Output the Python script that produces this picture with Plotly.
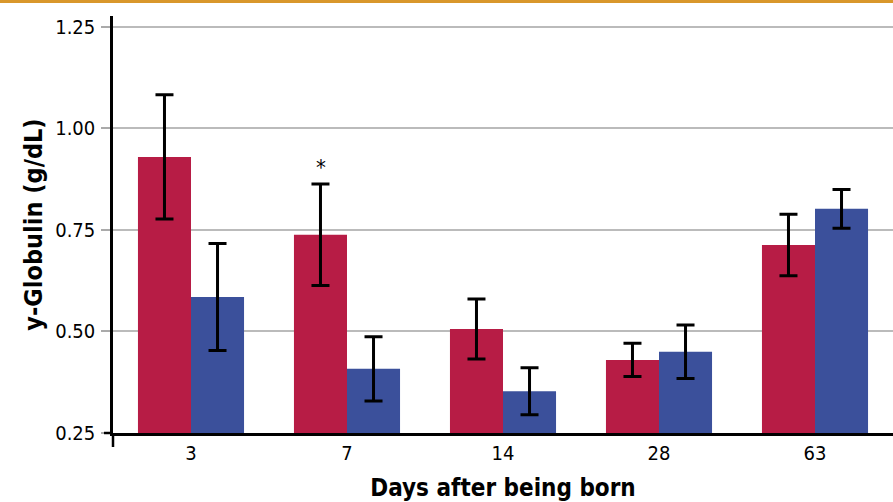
import plotly.graph_objects as go

days = ["3", "7", "14", "28", "63"]
group_a = [0.930, 0.738, 0.506, 0.430, 0.713]
group_a_err = [0.153, 0.125, 0.074, 0.041, 0.076]
group_b = [0.585, 0.408, 0.353, 0.450, 0.802]
group_b_err = [0.132, 0.079, 0.058, 0.066, 0.048]
y_ticks = [0.25, 0.50, 0.75, 1.00, 1.25]
y_tick_labels = ["0.25", "0.50", "0.75", "1.00", "1.25"]

RED = "#B71C45"
BLUE = "#3B509B"
FONT = "DejaVu Sans Condensed, Liberation Sans Narrow, Roboto, Arial, sans-serif"

fig = go.Figure()
fig.add_trace(go.Bar(
    x=days, y=[v - 0.25 for v in group_a], base=0.25, marker_color=RED,
    marker_line_width=0, name="A",
    error_y=dict(type="data", array=group_a_err, color="black", thickness=3, width=9),
))
fig.add_trace(go.Bar(
    x=days, y=[v - 0.25 for v in group_b], base=0.25, marker_color=BLUE,
    marker_line_width=0, name="B",
    error_y=dict(type="data", array=group_b_err, color="black", thickness=3, width=9),
))

# significance marker above day 7, first group (x given as category index)
fig.add_annotation(x=1, y=group_a[1] + group_a_err[1], xref="x", yref="y", text="*", showarrow=False,
                   xshift=-26, yshift=17, font=dict(size=22, color="black", family=FONT))

fig.update_layout(
    width=893, height=502,
    margin=dict(l=113, r=0, t=16, b=69, autoexpand=False),
    paper_bgcolor="white", plot_bgcolor="white",
    barmode="group", bargap=0.32, bargroupgap=0,
    showlegend=False,
    font=dict(family=FONT, color="black"),
    xaxis=dict(
        type="category", automargin=False,
        showline=True, linecolor="black", linewidth=2.5,
        ticks="", tickfont=dict(size=20, family=FONT),
        title=dict(text="<b>Days after being born</b>", font=dict(size=24, family=FONT), standoff=16),
        showgrid=False,
    ),
    yaxis=dict(
        automargin=False,
        range=[0.25, 1.277],
        tickvals=y_ticks, ticktext=y_tick_labels,
        tickfont=dict(size=20, family=FONT),
        ticks="outside", ticklen=9, tickcolor="#AAAAAA", tickwidth=1.5,
        ticklabelstandoff=2,
        showline=True, linecolor="black", linewidth=2.5,
        showgrid=True, gridcolor="#BBBBBB", gridwidth=1.5,
        zeroline=False,
        title=dict(text="<b>y-Globulin (g/dL)</b>", font=dict(size=25, family=FONT), standoff=6),
    ),
)

# axis extensions and top rule
fig.add_shape(type="line", xref="paper", yref="paper", x0=0, x1=0, y0=-14/417, y1=0,
              line=dict(color="black", width=2.5))
fig.add_shape(type="line", xref="paper", yref="paper", x0=-9/780, x1=0, y0=0, y1=0,
              line=dict(color="black", width=2.5))
fig.add_shape(type="line", xref="paper", yref="paper", x0=-113/780, x1=1, y0=(433-1.5)/417, y1=(433-1.5)/417,
              line=dict(color="#D9972B", width=3))

fig.write_html("out.html", config={"displayModeBar": False},
               post_script="document.body.style.margin='0';document.body.style.padding='0';")
